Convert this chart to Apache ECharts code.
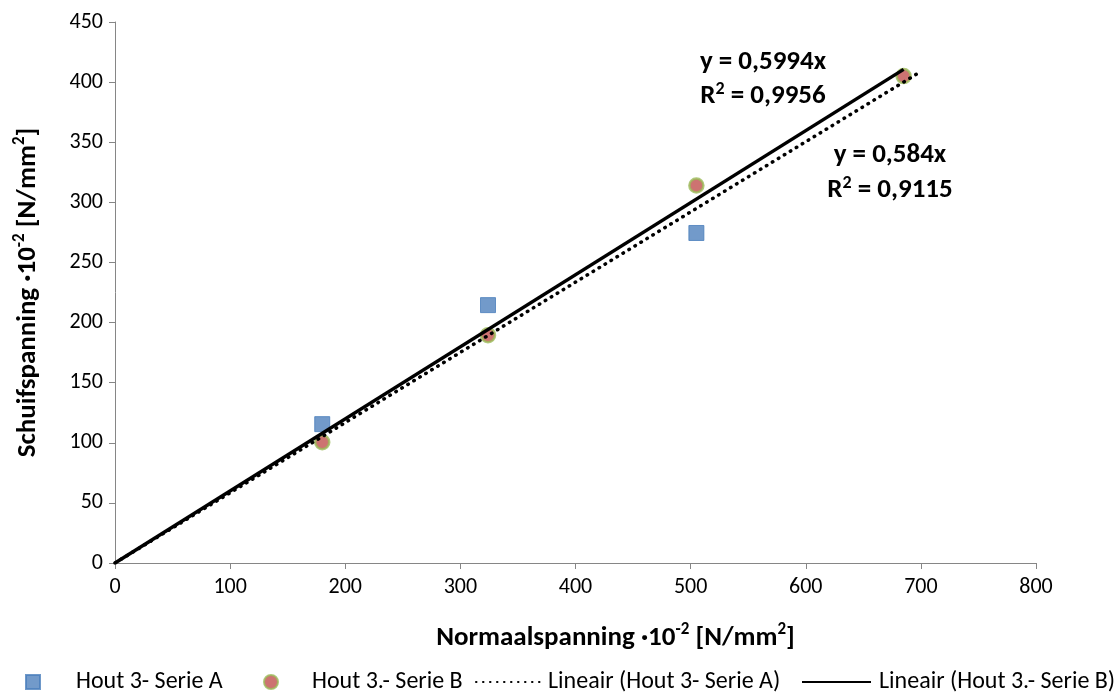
<!DOCTYPE html>
<html>
<head>
<meta charset="utf-8">
<script src="https://cdn.jsdelivr.net/npm/echarts@6/dist/echarts.min.js"></script>
<style>
  html, body { margin: 0; padding: 0; background: #fff; }
  #chart { width: 1118px; height: 700px; }
</style>
</head>
<body>
<div id="chart"></div>
<script>
// Measurements: normal stress vs. shear stress (×10⁻² N/mm²)
const serieAX = [180, 324, 505];
const serieAY = [115.5, 214.5, 274.5];
const serieBX = [180, 324, 505, 685];
const serieBY = [100.5, 189.5, 314, 405];

// Linear trendlines through the origin
const slopeA = 0.584;
const slopeB = 0.5994;
const slopeAText = '0,584';
const slopeBText = '0,5994';
const r2A = '0,9115';
const r2B = '0,9956';
const trendEndA = 700;
const trendEndB = 685;

const xTicks = [0, 100, 200, 300, 400, 500, 600, 700, 800];
const yTicks = [0, 50, 100, 150, 200, 250, 300, 350, 400, 450];

const nameA = 'Hout 3- Serie A';
const nameB = 'Hout 3.- Serie B';
const nameTA = 'Lineair (Hout 3- Serie A)';
const nameTB = 'Lineair (Hout 3.- Serie B)';

const FONT = 'Carlito, Lato, "Liberation Sans", sans-serif';
const axisGrey = '#868686';

const pairs = (xs, ys) => xs.map((x, i) => [x, ys[i]]);

// superscript token for rich text
const supRich = (size, lh) => ({
  sup: { fontFamily: FONT, fontSize: size, fontWeight: 'bold', color: '#000', verticalAlign: 'top', lineHeight: lh }
});

const chart = echarts.init(document.getElementById('chart'), null, { renderer: 'canvas' });

const legendText = { fontFamily: FONT, fontSize: 24, color: '#000' };
const legendBase = { bottom: 1, itemGap: 0, selectedMode: false, padding: [5, 5, 5, 5] };

const titleStyle = {
  fontFamily: FONT, fontSize: 27, fontWeight: 'bold', color: '#000', lineHeight: 34,
  rich: supRich(17, 24)
};

chart.setOption({
  animation: false,
  backgroundColor: '#fff',
  grid: { left: 115, right: 82, top: 22, bottom: 137, containLabel: false, outerBoundsMode: 'none' },
  xAxis: {
    type: 'value',
    min: xTicks[0], max: xTicks[xTicks.length - 1], interval: 100,
    name: 'Normaalspanning ·10{sup|-2} [N/mm{sup|2}]',
    nameLocation: 'middle', nameGap: 58,
    nameTextStyle: Object.assign({}, titleStyle, { padding: [0, 0, 0, 80] }),
    axisLine: { lineStyle: { color: axisGrey, width: 1 } },
    axisTick: { show: true, length: 6, lineStyle: { color: axisGrey } },
    axisLabel: { fontFamily: FONT, fontSize: 22, color: '#000', margin: 13 },
    splitLine: { show: false }
  },
  yAxis: {
    type: 'value',
    min: yTicks[0], max: yTicks[yTicks.length - 1], interval: 50,
    name: 'Schuifspanning ·10{sup|-2} [N/mm{sup|2}]',
    nameLocation: 'middle', nameGap: 70, nameRotate: 90,
    nameTextStyle: titleStyle,
    axisLine: { show: true, lineStyle: { color: axisGrey, width: 1 } },
    axisTick: { show: true, length: 6, lineStyle: { color: axisGrey } },
    axisLabel: { fontFamily: FONT, fontSize: 22, color: '#000', margin: 12 },
    splitLine: { show: false }
  },
  legend: [
    Object.assign({}, legendBase, { left: 20, data: [{ name: nameA, icon: 'rect' }], itemWidth: 14, itemHeight: 14,
      textStyle: Object.assign({}, legendText, { padding: [0, 0, 0, 31] }) }),
    Object.assign({}, legendBase, { left: 258, data: [{ name: nameB, icon: 'circle' }], itemWidth: 14, itemHeight: 14,
      textStyle: Object.assign({}, legendText, { padding: [0, 0, 0, 29] }) }),
    Object.assign({}, legendBase, { left: 470, data: [{ name: nameTA }], itemWidth: 66, itemHeight: 14,
      itemStyle: { opacity: 0 }, textStyle: Object.assign({}, legendText, { padding: [0, 0, 0, 1] }) }),
    Object.assign({}, legendBase, { left: 796, data: [{ name: nameTB }], itemWidth: 69, itemHeight: 14,
      itemStyle: { opacity: 0 }, textStyle: Object.assign({}, legendText, { padding: [0, 0, 0, 3] }) })
  ],
  series: [
    {
      name: nameTA,
      type: 'line',
      data: [[0, 0], [trendEndA, slopeA * trendEndA]],
      symbol: 'none',
      lineStyle: { color: '#000', width: 3.5, type: [0.5, 6.5], cap: 'round' },
      itemStyle: { color: '#000' },
      z: 3
    },
    {
      name: nameTB,
      type: 'line',
      data: [[0, 0], [trendEndB, slopeB * trendEndB]],
      symbol: 'none',
      lineStyle: { color: '#000', width: 3.5, type: 'solid' },
      itemStyle: { color: '#000' },
      z: 3
    },
    {
      name: nameA,
      type: 'scatter',
      data: pairs(serieAX, serieAY),
      symbol: 'rect',
      symbolSize: 15,
      itemStyle: { color: '#4F81BD', borderColor: '#4A7EBB', borderWidth: 1 },
      z: 2
    },
    {
      name: nameB,
      type: 'scatter',
      data: pairs(serieBX, serieBY),
      symbol: 'circle',
      symbolSize: 14,
      itemStyle: { color: '#C0504D', borderColor: '#9BBB59', borderWidth: 2.5 },
      z: 2
    }
  ],
  graphic: [
    { text: 'y = ' + slopeBText + 'x', cx: 763, cy: 62 },
    { text: 'R{sup|2} = ' + r2B, cx: 763, cy: 96 },
    { text: 'y = ' + slopeAText + 'x', cx: 890, cy: 155 },
    { text: 'R{sup|2} = ' + r2A, cx: 890, cy: 190 }
  ].map(t => ({
    type: 'text', x: t.cx, y: t.cy, z: 10,
    style: {
      text: t.text, fontFamily: FONT, fontSize: 27, fontWeight: 'bold', fill: '#000',
      align: 'center', verticalAlign: 'middle', lineHeight: 32,
      rich: { sup: { fontFamily: FONT, fontSize: 18, fontWeight: 'bold', fill: '#000', verticalAlign: 'top', lineHeight: 22 } }
    }
  }))
});
</script>
</body>
</html>
